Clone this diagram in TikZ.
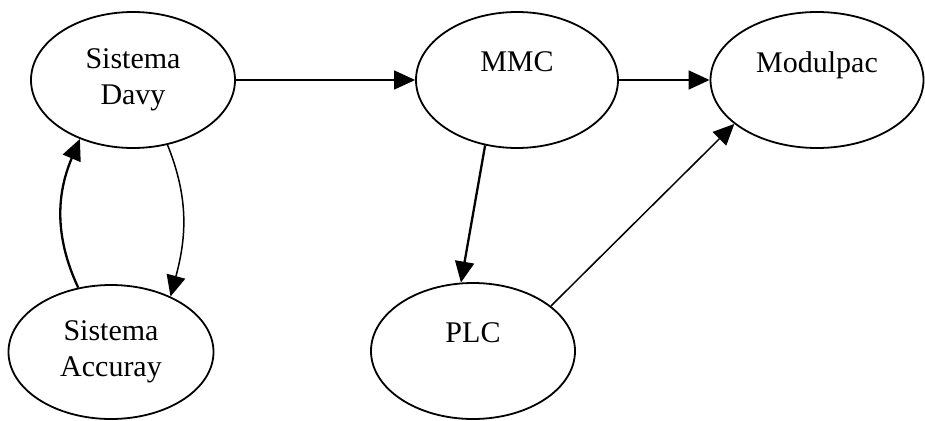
\documentclass[tikz,border=0pt]{standalone}
\usepackage{fontspec}
\setmainfont{Liberation Serif}
\usetikzlibrary{shapes.geometric,arrows.meta}
\begin{document}
\begin{tikzpicture}[x=1pt,y=-1pt,
  state/.style={ellipse,draw,line width=1.8pt,inner sep=0pt,align=center,
    font=\fontsize{30}{36}\selectfont,minimum width=204pt,minimum height=136pt},
  conn/.style={line width=1.5pt,-{Triangle[length=21pt,width=19pt]}},
  thickconn/.style={line width=2.3pt,-{Triangle[length=21pt,width=19pt]}}]
\useasboundingbox (0,0) rectangle (925,420);
\node[state] (davy) at (133,80) {Sistema\\Davy};
\node[state,minimum height=134pt,minimum width=205pt] (acc) at (111,352) {Sistema\\Accuray};
\node[state,minimum width=202pt] (mmc) at (517,80) {MMC\\\mbox{}};
\node[state,minimum width=213pt] (mod) at (817,80) {Modulpac\\\mbox{}};
\node[state] (plc) at (473,351) {PLC\\\mbox{}};
\draw[conn] (davy.east) -- (mmc.west);
\draw[conn] (mmc.east) -- (mod.west);
\draw[thickconn] (mmc.244) -- (plc.100);
\draw[conn] (plc.30) -- (mod.208);
\draw[conn] (davy.-62) to[out=-68,in=75] (acc.43);
\draw[thickconn] (acc.117) to[out=115,in=-113] (davy.-132);
\end{tikzpicture}
\end{document}
